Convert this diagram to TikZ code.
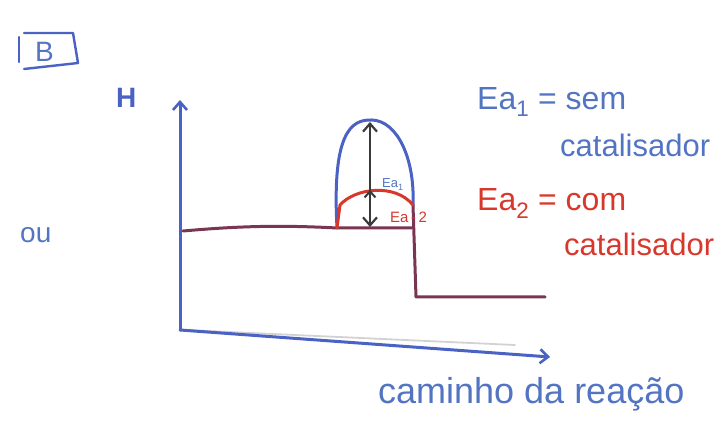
\documentclass[tikz,border=0pt]{standalone}
\usepackage{fontspec}
\setmainfont{Liberation Sans}
\usetikzlibrary{arrows.meta}
\definecolor{penblue}{HTML}{4A62C4}
\definecolor{txtblue}{HTML}{5274C2}
\definecolor{penred}{HTML}{D8382C}
\definecolor{level}{HTML}{7A3552}
\definecolor{pengray}{HTML}{3A3A3A}
\tikzset{
  pen/.style={line width=3pt, line cap=round, line join=round},
  axis/.style={pen, penblue, -{Straight Barb[length=8pt,width=14pt,line width=2.6pt]}},
  hand/.style={inner sep=0pt, anchor=base west},
}
\begin{document}
\begin{tikzpicture}[x=1pt,y=-1pt]
\useasboundingbox (0,0) rectangle (724,427);
% frame label
\node[hand, text=txtblue, font=\fontsize{28}{30}\selectfont] (lblB) at (35,62) {B};
\draw[pen, penblue, line width=2.4pt] (19,37) -- (19,62);
\draw[pen, penblue, line width=2.4pt] (24,33) -- (73,33) -- (78,63) -- (24,69);
% axes
\coordinate (O) at (180,330);
\coordinate (Ytop) at (180,100);
\coordinate (Xend) at (550,357);
\draw[pen, gray!35, line width=1.8pt] (185,330) -- (515,345);
\draw[axis] (O) -- (Ytop);
\draw[axis] (O) -- (Xend);
\node[hand, text=penblue, font=\fontsize{28}{30}\selectfont\bfseries] (H) at (116,108) {H};
\node[hand, text=txtblue, font=\fontsize{28}{30}\selectfont] (ou) at (20,243) {ou};
% levels
\coordinate (R0) at (183,231);
\coordinate (R1) at (337,228);
\coordinate (Pk) at (413,205);
\coordinate (P0) at (416,297);
\coordinate (P1) at (545,297);
\draw[pen, level] (R0) .. controls (240,226) and (280,225) .. (R1) -- (412,228);
% uncatalysed path (blue)
\draw[pen, penblue] (R1) .. controls (332,135) and (350,119) .. (372,120)
   .. controls (398,121) and (415,160) .. (Pk);
\draw[pen, level] (Pk) -- (P0) -- (P1);
% catalysed path (red)
\draw[pen, penred] (R1) -- (340,205) .. controls (355,188) and (395,183) .. (Pk);
% activation energy arrows
\coordinate (A1) at (370,122);
\coordinate (A0) at (370,227);
\coordinate (A2) at (370,190);
\draw[pen, pengray, line width=2.2pt, {Straight Barb[length=8pt,width=14pt,line width=2.2pt]}-{Straight Barb[length=8pt,width=14pt,line width=2.2pt]}] (A1) -- (A0);
\draw[pen, pengray, line width=2pt, {Straight Barb[length=6pt,width=11pt,line width=2pt]}-] (A2) -- (370,215);
\node[hand, text=txtblue, font=\fontsize{13}{14}\selectfont] (ea1s) at (382,188) {Ea\textsubscript{1}};
\node[hand, text=penred, font=\fontsize{15}{16}\selectfont] (ea2s) at (390,223) {Ea\,-\,2};
% legend
\node[hand, text=txtblue, font=\fontsize{32}{34}\selectfont] (leg1) at (477,110) {Ea\textsubscript{1} = sem};
\node[hand, text=txtblue, font=\fontsize{31}{33}\selectfont] (leg1b) at (560,157) {catalisador};
\node[hand, text=penred, font=\fontsize{32}{34}\selectfont] (leg2) at (477,211) {Ea\textsubscript{2} = com};
\node[hand, text=penred, font=\fontsize{31}{33}\selectfont] (leg2b) at (564,256) {catalisador};
% x label
\node[hand, text=txtblue, font=\fontsize{36}{38}\selectfont] (xl) at (378,404) {caminho da reação};
\end{tikzpicture}
\end{document}
